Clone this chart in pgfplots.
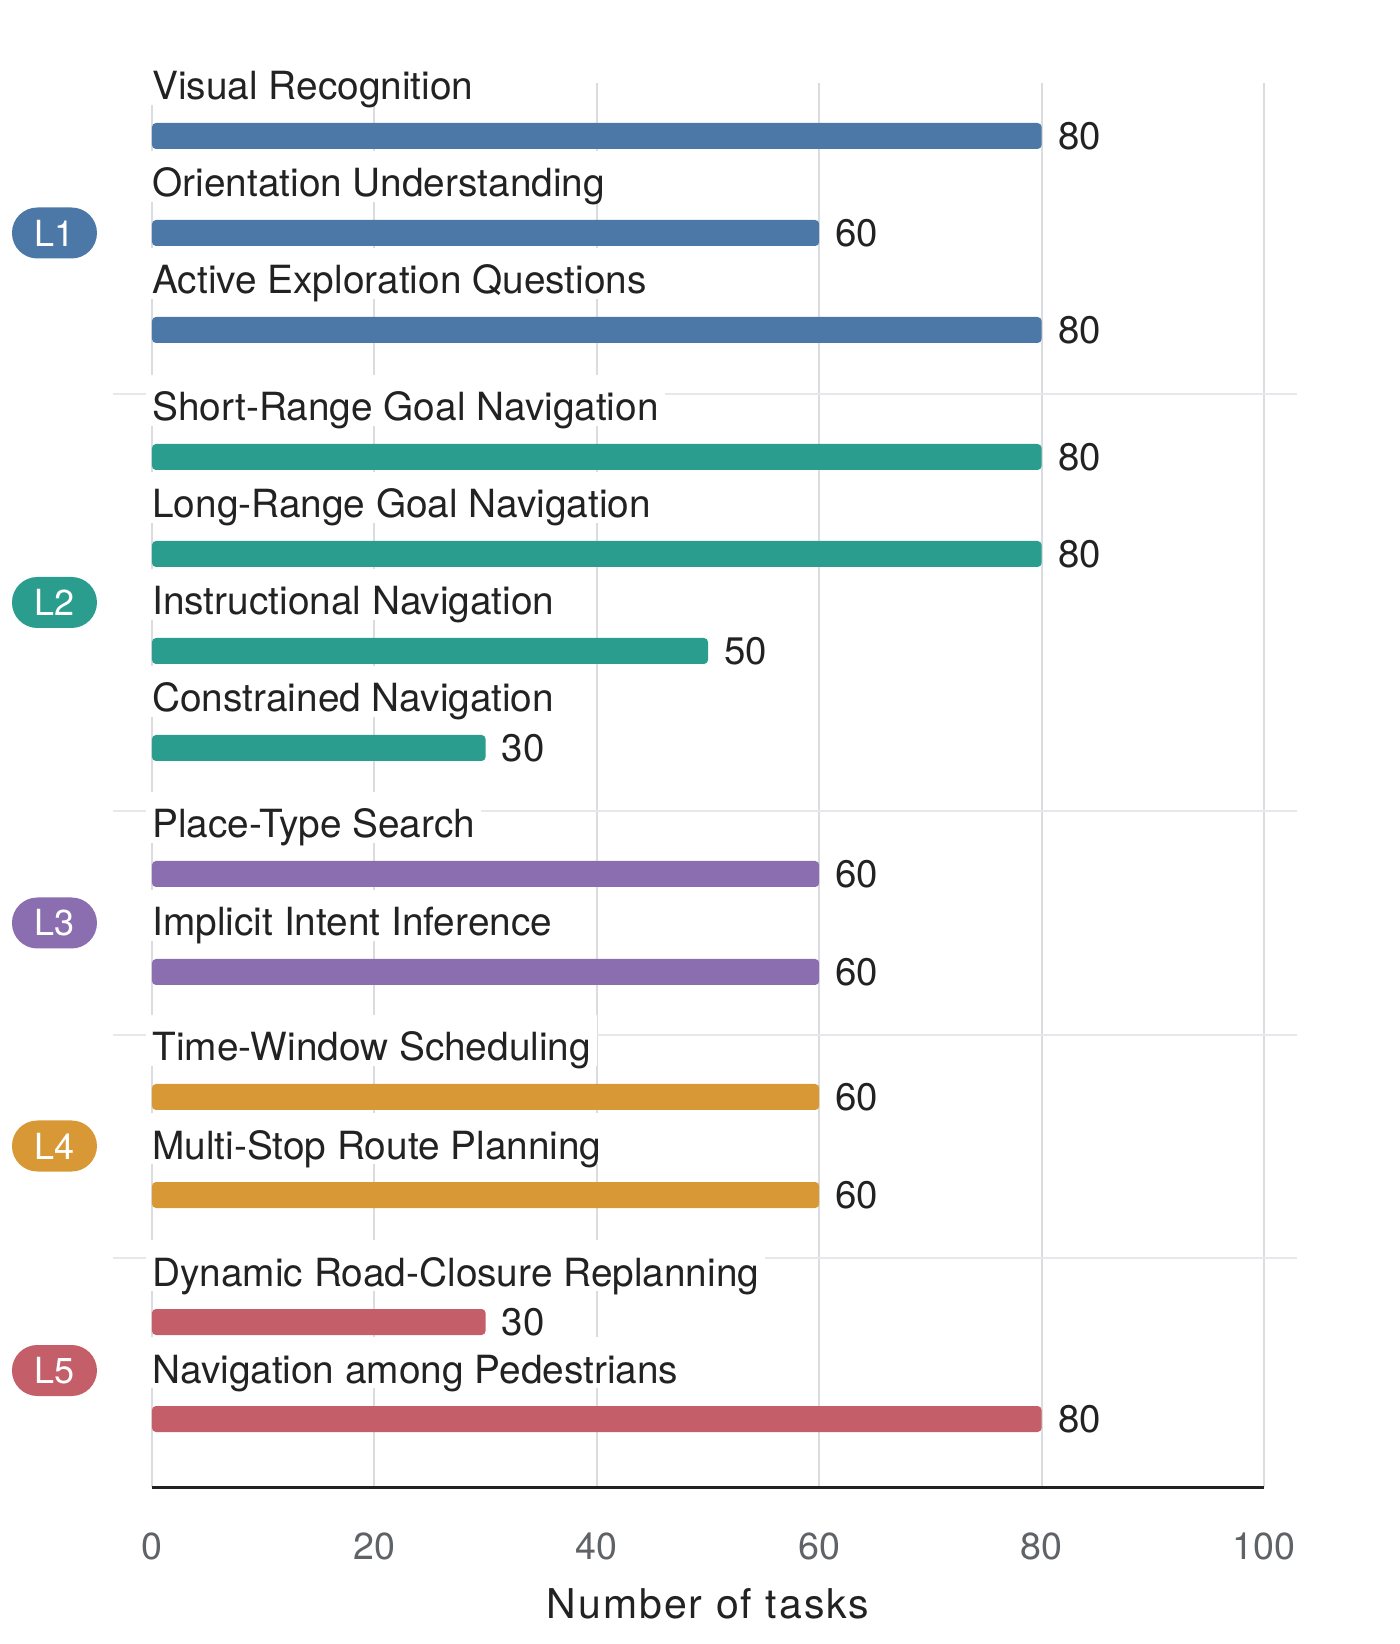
\documentclass[border=0pt]{standalone}
\usepackage{fontspec}
\setmainfont{TeX Gyre Heros}
\usepackage{pgfplots}
\pgfplotsset{compat=1.18}

% 1 px of the reference = 0.5pt; y values below are -px from the top
\definecolor{lone}{HTML}{4C78A8}
\definecolor{ltwo}{HTML}{2A9D8F}
\definecolor{lthree}{HTML}{8B6EB0}
\definecolor{lfour}{HTML}{D99836}
\definecolor{lfive}{HTML}{C45E68}
\definecolor{gridgray}{HTML}{DADCE0}
\definecolor{sepgray}{HTML}{E6E8EB}
\definecolor{textdark}{HTML}{222222}
\definecolor{tickgray}{HTML}{5F6368}

\tikzset{
  task/.style={anchor=base west, fill=white, inner xsep=3pt, inner ysep=0pt,
    text height=23pt, text depth=2.5pt, xshift=-3pt,
    font=\fontsize{19.4}{22}\selectfont, text=textdark},
  badge/.style={fill=#1, text=white, rounded corners=12.7pt, inner sep=0pt,
    minimum width=42.5pt, minimum height=25.5pt, font=\fontsize{18}{20}\selectfont},
  sep/.style={draw=sepgray, line width=1pt},
}
\pgfplotsset{
  taskbar/.style={xbar, bar width=13pt, bar shift=0pt, fill=#1, draw=none,
    rounded corners=2pt, point meta=x, nodes near coords,
    nodes near coords style={anchor=west, inner xsep=0pt, xshift=8pt,
      font=\fontsize{19.2}{20}\selectfont, text=textdark, rounded corners=0pt}},
}

\begin{document}
\begin{tikzpicture}
\begin{axis}[
    scale only axis,
    width=556pt, height=702pt,
    xmin=0, xmax=100,
    ymin=-1487, ymax=-83,
    clip=false,
    axis x line*=bottom,
    axis y line=none,
    x axis line style={line width=1.5pt, color=textdark, -},
    xtick={0,20,40,60,80,100},
    ytick=\empty,
    major tick length=0pt,
    xmajorgrids=true,
    grid style={line width=1pt, color=gridgray},
    /pgf/number format/assume math mode=true,
    xticklabel style={anchor=base, yshift=-36pt, text=tickgray,
      font=\fontsize{18.8}{20}\selectfont},
]
% page frame
\path (axis cs:-13.669,0) rectangle (axis cs:112.23,-1644);

% group separators
\draw[sep] (axis cs:-3.5,-394) -- (axis cs:102.97,-394);
\draw[sep] (axis cs:-3.5,-811) -- (axis cs:102.97,-811);
\draw[sep] (axis cs:-3.5,-1035) -- (axis cs:102.97,-1035);
\draw[sep] (axis cs:-3.5,-1258) -- (axis cs:102.97,-1258);

% task names
\node[task] at (axis cs:0,-100) {Visual Recognition};
\node[task] at (axis cs:0,-197) {Orientation Understanding};
\node[task] at (axis cs:0,-294) {Active Exploration Questions};
\node[task] at (axis cs:0,-421) {Short-Range Goal Navigation};
\node[task] at (axis cs:0,-518) {Long-Range Goal Navigation};
\node[task] at (axis cs:0,-615) {Instructional Navigation};
\node[task] at (axis cs:0,-712) {Constrained Navigation};
\node[task] at (axis cs:0,-838) {Place-Type Search};
\node[task] at (axis cs:0,-936) {Implicit Intent Inference};
\node[task] at (axis cs:0,-1061) {Time-Window Scheduling};
\node[task] at (axis cs:0,-1159) {Multi-Stop Route Planning};
\node[task] at (axis cs:0,-1286) {Dynamic Road-Closure Replanning};
\node[task] at (axis cs:0,-1383) {Navigation among Pedestrians};

% level badges
\node[badge=lone] at (axis cs:-8.77,-233) {L1};
\node[badge=ltwo] at (axis cs:-8.77,-602.5) {L2};
\node[badge=lthree] at (axis cs:-8.77,-923) {L3};
\node[badge=lfour] at (axis cs:-8.77,-1146) {L4};
\node[badge=lfive] at (axis cs:-8.77,-1370.5) {L5};

\addplot[taskbar=lone] coordinates {(80,-136) (60,-233) (80,-330)};
\addplot[taskbar=ltwo] coordinates {(80,-457) (80,-554) (50,-651) (30,-748)};
\addplot[taskbar=lthree] coordinates {(60,-874) (60,-972)};
\addplot[taskbar=lfour] coordinates {(60,-1097) (60,-1195)};
\addplot[taskbar=lfive] coordinates {(30,-1322) (80,-1419)};

\node[anchor=base, text=textdark, font=\fontsize{20.5}{22}\selectfont\addfontfeature{LetterSpace=5}]
  at (axis cs:50,-1618) {Number of tasks};
\end{axis}
\end{tikzpicture}
\end{document}
